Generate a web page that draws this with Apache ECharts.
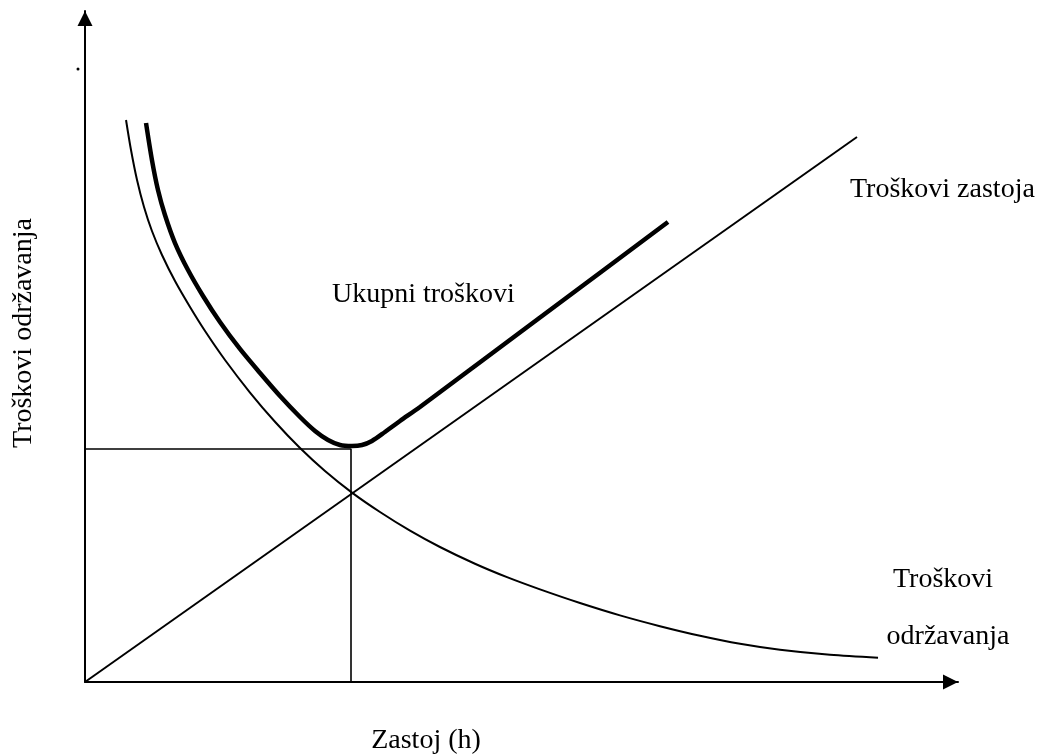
<!DOCTYPE html>
<html>
<head>
<meta charset="utf-8">
<script src="https://cdn.jsdelivr.net/npm/echarts@6/dist/echarts.min.js"></script>
<style>
  html, body { margin: 0; padding: 0; background: #fff; }
  #chart { width: 1056px; height: 756px; }
</style>
</head>
<body>
<div id="chart"></div>
<script>
// krivulje troškova (relativne jedinice, 0-100)
const odrzavanje = [
  [4.70, 83.76], [5.27, 79.28], [5.96, 74.81], [6.76, 70.79], [7.67, 67.21],
  [8.82, 63.64], [10.31, 59.76], [12.03, 55.89], [13.75, 52.31], [16.04, 47.99],
  [18.90, 43.14], [21.76, 38.78], [24.63, 34.87], [27.49, 31.45], [30.58, 28.23],
  [33.79, 25.34], [37.23, 22.56], [40.66, 20.12], [44.67, 17.62], [48.34, 15.62],
  [52.12, 13.80], [56.70, 11.77], [61.28, 9.93], [65.86, 8.32], [70.45, 6.89],
  [75.03, 5.69], [79.61, 4.80], [85.34, 4.05], [90.84, 3.62]
]
const zastoj = [[0, 0], [88.43, 81.22]]
const ukupno = [
  [6.99, 83.31], [7.67, 77.79], [8.36, 73.32], [9.16, 69.60], [10.31, 65.42],
  [11.80, 61.40], [13.52, 57.53], [15.46, 53.65], [17.75, 49.63], [20.05, 46.05],
  [22.34, 42.62], [24.63, 39.49], [26.35, 37.41], [27.84, 36.07], [29.21, 35.32],
  [30.58, 35.17], [31.73, 35.32], [32.87, 35.92], [34.36, 37.26], [36.08, 38.90],
  [38.37, 40.98], [52.58, 54.77], [66.78, 68.55]
]
// optimum
const optimum = [[0, 34.72], [30.47, 34.72], [30.47, 0]]

const font = "'Liberation Serif', 'Times New Roman', serif"
const fs = 28

const chart = echarts.init(document.getElementById('chart'))

const axisBase = {
  type: 'value',
  min: 0,
  max: 100,
  axisLine: {
    show: true,
    symbol: ['none', 'triangle'],
    symbolSize: [15, 15],
    symbolOffset: [0, -7.5],
    lineStyle: { color: '#000', width: 2 }
  },
  axisTick: { show: false },
  axisLabel: { show: false },
  splitLine: { show: false }
}

const lineSeries = (name, data, width, smooth) => ({
  name,
  type: 'line',
  data,
  smooth,
  symbol: 'none',
  silent: true,
  lineStyle: { color: '#000', width },
  z: 3
})

const label = (text, x, y, align, extra) => Object.assign({
  type: 'text',
  x,
  y,
  style: { text, font: `${fs}px ${font}`, fill: '#000', align, verticalAlign: 'middle' }
}, extra)

chart.setOption({
  animation: false,
  backgroundColor: '#fff',
  grid: { left: 85, right: 98, top: 11, bottom: 74 },
  xAxis: axisBase,
  yAxis: axisBase,
  series: [
    lineSeries('Troškovi održavanja', odrzavanje, 2, 0.3),
    lineSeries('Troškovi zastoja', zastoj, 2, false),
    lineSeries('Ukupni troškovi', ukupno, 4.5, 0.3),
    lineSeries('optimum', optimum, 1.6, false)
  ],
  graphic: [
    { type: 'circle', shape: { cx: 78, cy: 69, r: 1.5 }, style: { fill: '#000' } },
    label('Ukupni troškovi', 332, 295, 'left'),
    label('Troškovi zastoja', 850, 190, 'left'),
    label('Troškovi', 943, 580, 'center'),
    label('održavanja', 948, 637, 'center'),
    label('Zastoj (h)', 426, 741, 'center'),
    label('Troškovi održavanja', 24, 333, 'center', { rotation: Math.PI / 2 })
  ]
})

window.addEventListener('resize', () => chart.resize())
</script>
</body>
</html>
